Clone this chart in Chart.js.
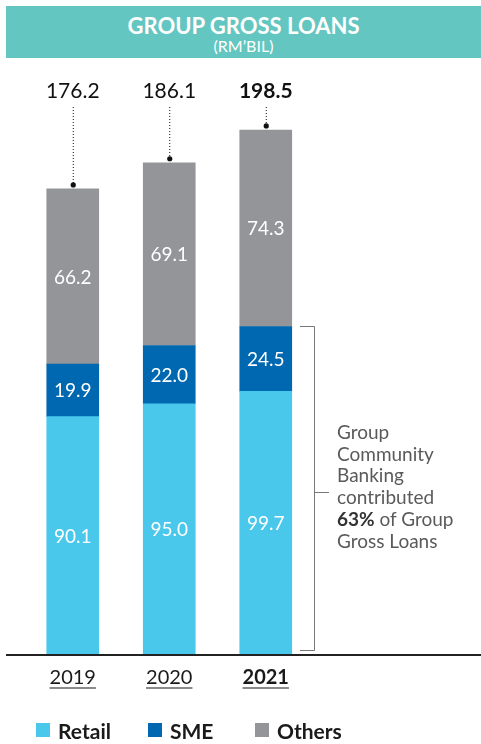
<!DOCTYPE html>
<html>
<head>
<meta charset="utf-8">
<script src="https://cdn.jsdelivr.net/npm/chart.js@4"></script>
<style>
  html, body { margin:0; padding:0; background:#fff; }
  body { width:481px; height:744px; position:relative; overflow:hidden; font-family: Lato, "Open Sans", sans-serif; }
  #banner { position:absolute; left:6px; top:6px; width:475px; height:52px; background:#64c6c0; color:#fff; text-align:center; }
  #banner .t { position:absolute; left:0; right:0; top:7px; font-size:22px; font-weight:bold; line-height:26px; }
  #banner .s { position:absolute; left:0; right:0; top:31px; font-size:16px; line-height:18px; }
  #chart { position:absolute; left:0; top:0; }
  #note { position:absolute; left:337px; top:421px; font-size:19px; line-height:21.7px; color:#5a5a5a; }
  #note b { color:#333; }
  #legend { position:absolute; top:718px; left:0; width:481px; height:26px; font-size:21px; font-weight:bold; color:#1a1a1a; }
  #legend span.sw { position:absolute; top:5px; width:14px; height:14px; }
  #legend span.lb { position:absolute; top:0; line-height:26px; }
</style>
</head>
<body>
<div id="banner"><div class="t">GROUP GROSS LOANS</div><div class="s">(RM’BIL)</div></div>
<canvas id="chart" width="481" height="744"></canvas>
<div id="note">Group<br>Community<br>Banking<br>contributed<br><b>63%</b> of Group<br>Gross Loans</div>
<div id="legend"></div>
<script>
const years = ['2019', '2020', '2021'];
const retail = [90.1, 95.0, 99.7];
const sme = [19.9, 22.0, 24.5];
const others = [66.2, 69.1, 74.3];
const totals = [176.2, 186.1, 198.5];
const seriesNames = ['Retail', 'SME', 'Others'];
const seriesColors = ['#4ac8ec', '#0068b0', '#939598'];

// HTML legend
const legendPos = [[36, 58], [148, 170], [255, 277]];
const legendEl = document.getElementById('legend');
seriesNames.forEach((n, i) => {
  const sw = document.createElement('span');
  sw.className = 'sw'; sw.style.left = legendPos[i][0] + 'px'; sw.style.background = seriesColors[i];
  const lb = document.createElement('span');
  lb.className = 'lb'; lb.style.left = legendPos[i][1] + 'px'; lb.textContent = n;
  legendEl.appendChild(sw); legendEl.appendChild(lb);
});

const decor = {
  id: 'decor',
  afterDatasetsDraw(chart) {
    const ctx = chart.ctx;
    const ys = chart.scales.y;
    ctx.save();
    // segment labels
    ctx.font = '19px Lato';
    ctx.fillStyle = '#ffffff';
    ctx.textAlign = 'center';
    ctx.textBaseline = 'middle';
    chart.data.datasets.forEach((ds, di) => {
      const meta = chart.getDatasetMeta(di);
      meta.data.forEach((el, i) => {
        ctx.fillText(ds.data[i].toFixed(1), el.x, (el.y + el.base) / 2 + 1);
      });
    });
    // totals with dotted leaders
    const lastMeta = chart.getDatasetMeta(2);
    totals.forEach((t, i) => {
      const x = lastMeta.data[i].x;
      const topY = ys.getPixelForValue(t);
      ctx.fillStyle = '#111';
      ctx.font = (i === 2 ? 'bold ' : '') + '21px Lato';
      ctx.fillText(t.toFixed(1), x, 91);
      ctx.strokeStyle = '#111';
      ctx.lineWidth = 1;
      ctx.setLineDash([1, 2]);
      ctx.beginPath();
      ctx.moveTo(x + 0.5, 107);
      ctx.lineTo(x + 0.5, topY - 4);
      ctx.stroke();
      ctx.setLineDash([]);
      ctx.beginPath();
      ctx.arc(x + 0.5, topY - 4, 2.6, 0, Math.PI * 2);
      ctx.fill();
    });
    // baseline
    const by = ys.getPixelForValue(0);
    ctx.fillStyle = '#222';
    ctx.fillRect(6, by - 1, 475, 2);
    // bracket
    const bTop = Math.round(ys.getPixelForValue(retail[2] + sme[2])) + 0.5;
    const bBot = Math.round(by) - 5 + 0.5;
    const bx = 314.5;
    ctx.strokeStyle = '#777';
    ctx.lineWidth = 1;
    ctx.beginPath();
    ctx.moveTo(300, bTop); ctx.lineTo(bx, bTop); ctx.lineTo(bx, bBot); ctx.lineTo(300, bBot);
    const mid = Math.round((bTop + bBot) / 2) + 0.5 + 3;
    ctx.moveTo(bx, mid); ctx.lineTo(329, mid);
    ctx.stroke();
    ctx.restore();
  },
  afterDraw(chart) {
    const ctx = chart.ctx;
    const xs = chart.scales.x;
    ctx.save();
    ctx.fillStyle = '#8a8a8a';
    xs.ticks.forEach((tk, i) => {
      ctx.font = (i === 2 ? 'bold ' : '') + '20px Lato';
      const w = ctx.measureText(years[i]).width;
      const x = xs.getPixelForTick(i);
      ctx.fillRect(x - w / 2, 687, w, 2);
    });
    ctx.restore();
  }
};

new Chart(document.getElementById('chart'), {
  type: 'bar',
  data: {
    labels: years,
    datasets: [
      { label: 'Retail', data: retail, backgroundColor: seriesColors[0] },
      { label: 'SME', data: sme, backgroundColor: seriesColors[1] },
      { label: 'Others', data: others, backgroundColor: seriesColors[2] }
    ]
  },
  options: {
    responsive: false,
    animation: false,
    layout: { padding: { left: 24.5, right: 167, top: 126, bottom: 49 } },
    datasets: { bar: { barThickness: 52, borderWidth: 0 } },
    plugins: { legend: { display: false }, tooltip: { enabled: false }, title: { display: false } },
    scales: {
      x: {
        stacked: true,
        grid: { display: false },
        border: { display: false },
        afterFit(s) { s.height = 40; },
        ticks: {
          padding: 3,
          color: '#1a1a1a',
          font: (c) => ({ family: 'Lato', size: 20, weight: c.index === 2 ? 'bold' : 'normal' })
        }
      },
      y: { stacked: true, display: false, min: 0, max: 200 }
    }
  },
  plugins: [decor]
});
</script>
</body>
</html>
